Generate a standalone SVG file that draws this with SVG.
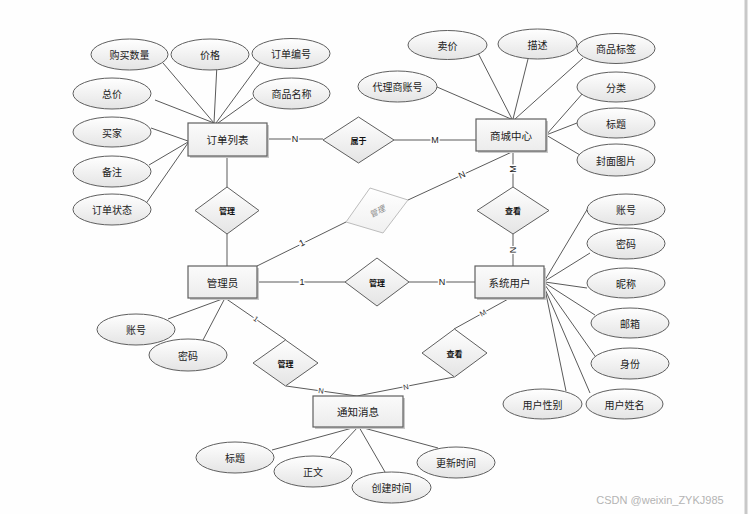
<svg xmlns="http://www.w3.org/2000/svg" width="749" height="514" viewBox="0 0 749 514">
<style>
.bg{fill:#fefefe}
.ln{stroke:#5a5a5a;stroke-width:1;fill:none}
.ent{fill:url(#gEnt);stroke:#5f5f5f;stroke-width:1.2}
.sh{fill:#c9c9c9}
.att{fill:url(#gAtt);stroke:#5f5f5f;stroke-width:1}
.rel{fill:url(#gAtt);stroke:#5f5f5f;stroke-width:1}
.t{font-family:"Noto Sans CJK SC","Liberation Sans",sans-serif;font-size:10.5px;fill:#222;text-anchor:middle;dominant-baseline:central}
.ta{font-family:"Noto Sans CJK SC","Liberation Sans",sans-serif;font-size:10px;fill:#222;text-anchor:middle;dominant-baseline:central}
.tr{font-family:"Noto Sans CJK SC","Liberation Sans",sans-serif;font-size:8px;font-weight:bold;fill:#111;text-anchor:middle;dominant-baseline:central}
.c{font-family:"Liberation Sans",sans-serif;font-size:9px;fill:#222;text-anchor:middle;dominant-baseline:central;stroke:#fefefe;stroke-width:3px;paint-order:stroke}
.cs{font-family:"Liberation Sans",sans-serif;font-size:7.5px;fill:#333;text-anchor:middle;dominant-baseline:central;stroke:#fefefe;stroke-width:2.5px;paint-order:stroke}
</style>
<defs>
<linearGradient id="gAtt" x1="0" y1="0" x2="0" y2="1">
<stop offset="0" stop-color="#ffffff"/><stop offset="1" stop-color="#e4e4e4"/>
</linearGradient>
<linearGradient id="gEnt" x1="0" y1="0" x2="0" y2="1">
<stop offset="0" stop-color="#fbfbfb"/><stop offset="1" stop-color="#ececec"/>
</linearGradient>
<linearGradient id="gFade" x1="0" y1="0" x2="0" y2="1">
<stop offset="0" stop-color="#ffffff"/><stop offset="1" stop-color="#f0f0f0"/>
</linearGradient>
</defs>
<rect class="bg" x="0" y="0" width="749" height="514"/>
<rect x="744.5" y="0" width="3" height="514" fill="#c8c8c8"/>

<g id="connectors">
<!-- 订单列表 attributes -->
<line class="ln" x1="163" y1="63" x2="214" y2="123"/>
<line class="ln" x1="217" y1="64" x2="214" y2="123"/>
<line class="ln" x1="260" y1="63" x2="216" y2="123"/>
<line class="ln" x1="253" y1="98" x2="218" y2="123"/>
<line class="ln" x1="155" y1="100" x2="214" y2="123"/>
<line class="ln" x1="151" y1="128" x2="188" y2="141"/>
<line class="ln" x1="149" y1="165" x2="188" y2="142"/>
<line class="ln" x1="147" y1="202" x2="188" y2="143"/>
<!-- 商城中心 attributes -->
<line class="ln" x1="478" y1="53" x2="512" y2="119"/>
<line class="ln" x1="528" y1="59" x2="513" y2="119"/>
<line class="ln" x1="583" y1="58" x2="515" y2="119"/>
<line class="ln" x1="437" y1="87" x2="511" y2="119"/>
<line class="ln" x1="583" y1="93" x2="546" y2="135"/>
<line class="ln" x1="577" y1="123" x2="546" y2="135"/>
<line class="ln" x1="580" y1="155" x2="546" y2="135"/>
<!-- 系统用户 attributes -->
<line class="ln" x1="588" y1="208" x2="545" y2="280"/>
<line class="ln" x1="590" y1="253" x2="545" y2="281"/>
<line class="ln" x1="587" y1="288" x2="545" y2="282"/>
<line class="ln" x1="595" y1="315" x2="545" y2="283"/>
<line class="ln" x1="595" y1="356" x2="545" y2="285"/>
<line class="ln" x1="566" y1="391" x2="545" y2="289"/>
<line class="ln" x1="590" y1="393" x2="545" y2="289"/>
<!-- 管理员 attributes -->
<line class="ln" x1="168" y1="319" x2="225" y2="298"/>
<line class="ln" x1="203" y1="340" x2="225" y2="298"/>
<!-- 通知消息 attributes -->
<line class="ln" x1="272" y1="450" x2="356" y2="427"/>
<line class="ln" x1="330" y1="457" x2="358" y2="427"/>
<line class="ln" x1="385" y1="472" x2="359" y2="427"/>
<line class="ln" x1="438" y1="448" x2="360" y2="427"/>
<!-- relationships -->
<line class="ln" x1="267" y1="139" x2="323" y2="139"/>
<line class="ln" x1="394" y1="140" x2="476" y2="140"/>
<line class="ln" x1="227" y1="156" x2="227" y2="187"/>
<line class="ln" x1="227" y1="234" x2="227" y2="266"/>
<line class="ln" x1="257" y1="266" x2="346" y2="222"/>
<line class="ln" x1="408" y1="200" x2="514" y2="151"/>
<line class="ln" x1="513" y1="151" x2="513" y2="187"/>
<line class="ln" x1="513" y1="234" x2="513" y2="266"/>
<line class="ln" x1="257" y1="282" x2="345" y2="282"/>
<line class="ln" x1="409" y1="282" x2="475" y2="282"/>
<line class="ln" x1="225" y1="298" x2="286" y2="340"/>
<line class="ln" x1="286" y1="386" x2="357" y2="396"/>
<line class="ln" x1="454" y1="377" x2="357" y2="396"/>
<line class="ln" x1="510" y1="298" x2="454" y2="329"/>
<!-- cardinality labels -->
<text class="c" x="295" y="139">N</text>
<text class="c" x="435" y="140">M</text>
<text class="c" x="302" y="243" transform="rotate(-27 302 243)">1</text>
<text class="c" x="462" y="175" transform="rotate(-25 462 175)">N</text>
<text class="c" x="513" y="169" transform="rotate(-90 513 169)">M</text>
<text class="c" x="513" y="250" transform="rotate(-90 513 250)">N</text>
<text class="c" x="302" y="282">1</text>
<text class="c" x="442" y="282">N</text>
<text class="cs" x="256" y="319" transform="rotate(35 256 319)">1</text>
<text class="cs" x="321" y="391" transform="rotate(8 321 391)">N</text>
<text class="cs" x="406" y="387" transform="rotate(-11 406 387)">N</text>
<text class="cs" x="483" y="313" transform="rotate(-29 483 313)">M</text>
</g>

<g id="e-dingdan">
<rect class="sh" x="190" y="125" width="79" height="33"/>
<rect class="ent" x="188" y="123" width="79" height="33"/>
<text class="t" x="227.5" y="139.5">订单列表</text>
</g>
<g id="e-shangcheng">
<rect class="sh" x="478" y="121" width="70" height="32"/>
<rect class="ent" x="476" y="119" width="70" height="32"/>
<text class="t" x="511" y="135">商城中心</text>
</g>
<g id="e-guanliyuan">
<rect class="sh" x="190" y="268" width="69" height="32"/>
<rect class="ent" x="188" y="266" width="69" height="32"/>
<text class="t" x="222.5" y="282">管理员</text>
</g>
<g id="e-xitongyonghu">
<rect class="sh" x="477" y="268" width="69" height="32"/>
<rect class="ent" x="475" y="266" width="69" height="32"/>
<text class="t" x="509.5" y="282">系统用户</text>
</g>
<g id="e-tongzhi">
<rect class="sh" x="315" y="398" width="90" height="31"/>
<rect class="ent" x="313" y="396" width="90" height="31"/>
<text class="t" x="358" y="411.5">通知消息</text>
</g>

<g id="r-shuyu">
<polygon class="rel" points="323,140 358.5,117 394,140 358.5,163"/>
<text class="tr" x="358.5" y="140">属于</text>
</g>
<g id="r-guanli1">
<polygon class="rel" points="195,210.5 227,187 259,210.5 227,234"/>
<text class="tr" x="227" y="210.5">管理</text>
</g>
<g id="r-guanli-fade">
<polygon points="346,222 370,188 408,200 383,233" fill="url(#gFade)" stroke="#bdbdbd" stroke-width="1"/>
<text x="377" y="211" transform="rotate(-28 377 211)" font-family="Noto Sans CJK SC, sans-serif" font-size="8" font-style="italic" fill="#8a8a8a" text-anchor="middle" dominant-baseline="central">管理</text>
</g>
<g id="r-chakan1">
<polygon class="rel" points="477,210.5 513,187 549,210.5 513,234"/>
<text class="tr" x="513" y="210.5">查看</text>
</g>
<g id="r-guanli2">
<polygon class="rel" points="345,282 377,258 409,282 377,306"/>
<text class="tr" x="377" y="282">管理</text>
</g>
<g id="r-guanli3">
<polygon class="rel" points="253,363 285.5,340 318,363 285.5,386"/>
<text class="tr" x="285.5" y="363">管理</text>
</g>
<g id="r-chakan2">
<polygon class="rel" points="422,353 454.5,329 487,353 454.5,377"/>
<text class="tr" x="454.5" y="353">查看</text>
</g>

<g id="a-goumaishuliang"><ellipse class="att" cx="129.5" cy="54.5" rx="38.5" ry="15.5"/><text class="ta" x="129.5" y="54.5">购买数量</text></g>
<g id="a-jiage"><ellipse class="att" cx="210" cy="54.5" rx="39" ry="15.5"/><text class="ta" x="210" y="54.5">价格</text></g>
<g id="a-dingdanbianhao"><ellipse class="att" cx="291" cy="53.5" rx="39" ry="15"/><text class="ta" x="291" y="53.5">订单编号</text></g>
<g id="a-zongjia"><ellipse class="att" cx="112" cy="93.5" rx="39" ry="15.5"/><text class="ta" x="112" y="93.5">总价</text></g>
<g id="a-shangpinmingcheng"><ellipse class="att" cx="291.5" cy="93.5" rx="38.5" ry="15.5"/><text class="ta" x="291.5" y="93.5">商品名称</text></g>
<g id="a-maijia"><ellipse class="att" cx="112" cy="132" rx="39" ry="15"/><text class="ta" x="112" y="132">买家</text></g>
<g id="a-beizhu"><ellipse class="att" cx="112" cy="171.5" rx="39" ry="15.5"/><text class="ta" x="112" y="171.5">备注</text></g>
<g id="a-dingdanzhuangtai"><ellipse class="att" cx="112" cy="209.5" rx="39" ry="15.5"/><text class="ta" x="112" y="209.5">订单状态</text></g>

<g id="a-maijia2"><ellipse class="att" cx="447.5" cy="45" rx="39.5" ry="14.5"/><text class="ta" x="447.5" y="45">卖价</text></g>
<g id="a-miaoshu"><ellipse class="att" cx="537.5" cy="44" rx="39.5" ry="15"/><text class="ta" x="537.5" y="44">描述</text></g>
<g id="a-shangpinbiaoqian"><ellipse class="att" cx="616" cy="48.5" rx="39" ry="15"/><text class="ta" x="616" y="48.5">商品标签</text></g>
<g id="a-dailishang"><ellipse class="att" cx="397.5" cy="86.5" rx="39.5" ry="15.5"/><text class="ta" x="397.5" y="86.5">代理商账号</text></g>
<g id="a-fenlei"><ellipse class="att" cx="616" cy="87" rx="39" ry="15"/><text class="ta" x="616" y="87">分类</text></g>
<g id="a-biaoti1"><ellipse class="att" cx="616" cy="123" rx="39" ry="15"/><text class="ta" x="616" y="123">标题</text></g>
<g id="a-fengmian"><ellipse class="att" cx="616" cy="160" rx="39" ry="16"/><text class="ta" x="616" y="160">封面图片</text></g>

<g id="a-zhanghao1"><ellipse class="att" cx="626" cy="209.5" rx="39" ry="15.5"/><text class="ta" x="626" y="209.5">账号</text></g>
<g id="a-mima1"><ellipse class="att" cx="626" cy="243.5" rx="39" ry="15.5"/><text class="ta" x="626" y="243.5">密码</text></g>
<g id="a-nicheng"><ellipse class="att" cx="626" cy="283" rx="39" ry="15"/><text class="ta" x="626" y="283">昵称</text></g>
<g id="a-youxiang"><ellipse class="att" cx="630" cy="323" rx="39" ry="15"/><text class="ta" x="630" y="323">邮箱</text></g>
<g id="a-shenfen"><ellipse class="att" cx="630" cy="363.5" rx="39" ry="15.5"/><text class="ta" x="630" y="363.5">身份</text></g>
<g id="a-xingbie"><ellipse class="att" cx="542.5" cy="404" rx="39.5" ry="15"/><text class="ta" x="542.5" y="404">用户性别</text></g>
<g id="a-xingming"><ellipse class="att" cx="624.5" cy="404" rx="38.5" ry="15"/><text class="ta" x="624.5" y="404">用户姓名</text></g>

<g id="a-zhanghao2"><ellipse class="att" cx="136" cy="329.5" rx="39" ry="15.5"/><text class="ta" x="136" y="329.5">账号</text></g>
<g id="a-mima2"><ellipse class="att" cx="188" cy="355" rx="39" ry="16"/><text class="ta" x="188" y="355">密码</text></g>

<g id="a-biaoti2"><ellipse class="att" cx="235" cy="457.5" rx="39" ry="15.5"/><text class="ta" x="235" y="457.5">标题</text></g>
<g id="a-zhengwen"><ellipse class="att" cx="313" cy="471.5" rx="39" ry="15.5"/><text class="ta" x="313" y="471.5">正文</text></g>
<g id="a-chuangjian"><ellipse class="att" cx="391.5" cy="487.5" rx="39.5" ry="15.5"/><text class="ta" x="391.5" y="487.5">创建时间</text></g>
<g id="a-gengxin"><ellipse class="att" cx="456" cy="462.5" rx="39" ry="15.5"/><text class="ta" x="456" y="462.5">更新时间</text></g>

<text x="660" y="500" font-family="Liberation Sans, sans-serif" font-size="11" fill="#b4b4b4" text-anchor="middle" dominant-baseline="central">CSDN @weixin_ZYKJ985</text>
</svg>
